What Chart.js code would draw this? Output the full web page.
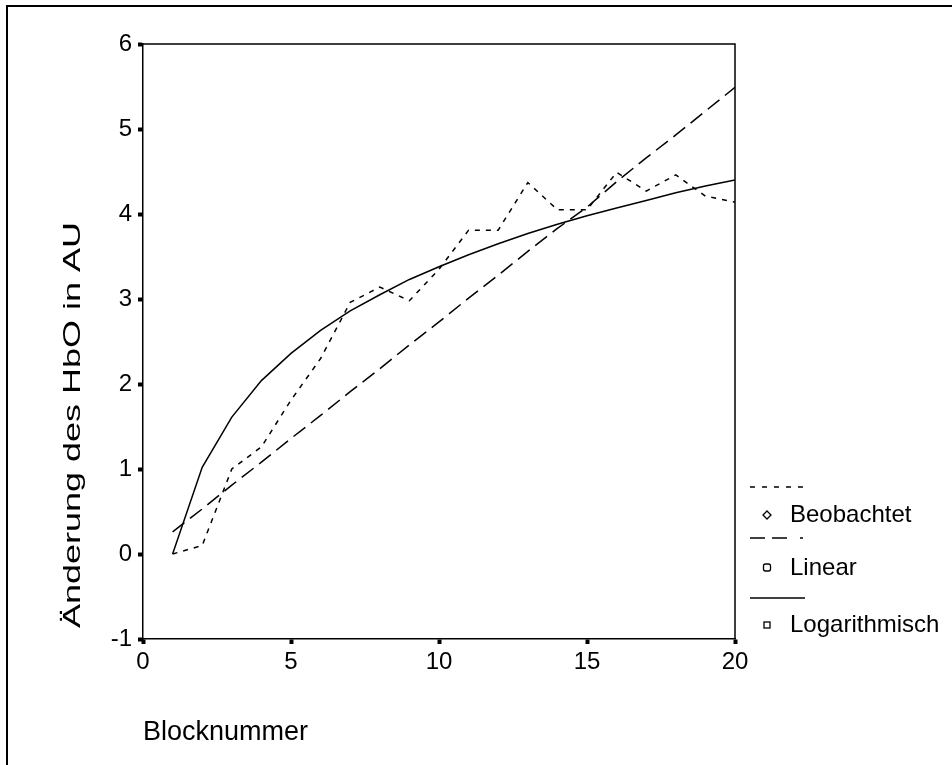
<!DOCTYPE html>
<html><head><meta charset="utf-8">
<script src="https://cdn.jsdelivr.net/npm/chart.js@4.4.1/dist/chart.umd.min.js"></script>
<style>html,body{margin:0;padding:0;background:#fff;}#wrap{width:952px;height:765px;}</style>
</head><body><div id="wrap"><canvas id="c" width="952" height="765"></canvas></div>
<script>
const blocks = [1,2,3,4,5,6,7,8,9,10,11,12,13,14,15,16,17,18,19,20];
const observed = [0.00,0.10,1.00,1.26,1.81,2.30,2.96,3.14,2.98,3.35,3.81,3.81,4.37,4.05,4.05,4.49,4.27,4.46,4.21,4.14];
const linearFit = [0.26,0.53,0.81,1.08,1.36,1.63,1.91,2.18,2.46,2.73,3.01,3.28,3.56,3.83,4.08,4.38,4.66,4.93,5.21,5.49];
const logFit = [0.00,1.02,1.61,2.04,2.36,2.63,2.86,3.05,3.23,3.38,3.52,3.65,3.77,3.88,3.98,4.07,4.16,4.25,4.33,4.40];
const seriesNames = ['Beobachtet','Linear','Logarithmisch'];
const xTitle = 'Blocknummer';
const yTitle = 'Änderung des HbO in AU';

const FONT = 'Liberation Sans, Arial, sans-serif';
const pts = arr => blocks.map((b,i)=>({x:b,y:arr[i]}));

const framePlugin = {
  id:'frame',
  afterDraw(chart){
    const ctx = chart.ctx, a = chart.chartArea;
    ctx.save();
    ctx.strokeStyle = '#000';
    ctx.lineWidth = 2;
    ctx.beginPath();
    ctx.moveTo(7,765); ctx.lineTo(7,6); ctx.lineTo(952,6);
    ctx.stroke();
    ctx.lineWidth = 1.5;
    ctx.beginPath();
    ctx.moveTo(a.left,a.top); ctx.lineTo(a.right,a.top); ctx.lineTo(a.right,a.bottom);
    ctx.stroke();
    // y axis title (elongated along its length, as in the reference)
    ctx.save();
    ctx.fillStyle = '#000';
    ctx.font = '24px ' + FONT;
    ctx.textAlign = 'center';
    ctx.textBaseline = 'alphabetic';
    ctx.translate(80, 425);
    ctx.rotate(-Math.PI/2);
    ctx.scale(1.5, 1);
    ctx.fillText(yTitle, 0, 0);
    ctx.restore();
    // legend
    const lx0 = 750;
    const samples = [
      {dash:[5,7], end:803},
      {dash:[15,7,15,13], end:803},
      {dash:[], end:805}
    ];
    const lineY = [487,538,598];
    const textY = [515,568,625];
    ctx.lineWidth = 1.5;
    for (let i=0;i<3;i++){
      ctx.setLineDash(samples[i].dash);
      ctx.beginPath(); ctx.moveTo(lx0,lineY[i]); ctx.lineTo(samples[i].end,lineY[i]); ctx.stroke();
    }
    ctx.setLineDash([]);
    ctx.lineWidth = 1.3;
    let mx = 767, my = textY[0];
    ctx.beginPath(); ctx.moveTo(mx,my-4); ctx.lineTo(mx+4,my); ctx.lineTo(mx,my+4); ctx.lineTo(mx-4,my); ctx.closePath(); ctx.stroke();
    my = textY[1];
    ctx.beginPath(); ctx.roundRect(mx-3.5,my-4,7,7,2); ctx.stroke();
    my = textY[2];
    ctx.strokeRect(mx-3,my-3,6,6);
    ctx.fillStyle = '#000';
    ctx.font = '24px ' + FONT;
    ctx.textBaseline = 'middle';
    ctx.textAlign = 'left';
    for (let i=0;i<3;i++) ctx.fillText(seriesNames[i], 790, textY[i]);
    ctx.restore();
  }
};

new Chart(document.getElementById('c'), {
  type:'line',
  data:{
    datasets:[
      {label:seriesNames[0], data:pts(observed), borderColor:'#000', borderWidth:1.5, borderDash:[5,6], pointRadius:0, tension:0, fill:false},
      {label:seriesNames[1], data:pts(linearFit), borderColor:'#000', borderWidth:1.5, borderDash:[15,7], pointRadius:0, tension:0, fill:false},
      {label:seriesNames[2], data:pts(logFit), borderColor:'#000', borderWidth:1.5, pointRadius:0, tension:0, fill:false}
    ]
  },
  options:{
    responsive:false, animation:false, devicePixelRatio:1,
    layout:{padding:{left:0,top:44,right:217,bottom:0}},
    plugins:{legend:{display:false}, tooltip:{enabled:false}},
    scales:{
      x:{type:'linear', min:0, max:20,
        ticks:{stepSize:5, color:'#000', font:{family:FONT,size:24}, padding:4, maxRotation:0},
        grid:{display:true, drawOnChartArea:false, drawTicks:true, tickLength:5, tickWidth:4, tickColor:'#000'},
        border:{display:true, color:'#000', width:1.5},
        title:{display:true, text:xTitle, align:'start', color:'#000', font:{family:FONT,size:27}, padding:{top:0,bottom:16}},
        afterFit(s){ s.height = 126; }
      },
      y:{type:'linear', min:-1, max:6,
        ticks:{stepSize:1, color:'#000', font:{family:FONT,size:24}, padding:6},
        grid:{display:true, drawOnChartArea:false, drawTicks:true, tickLength:5, tickWidth:4, tickColor:'#000'},
        border:{display:true, color:'#000', width:1.5},
        title:{display:false, text:yTitle},
        afterFit(s){ s.width = 143; }
      }
    }
  },
  plugins:[framePlugin]
});
</script>
</body></html>
